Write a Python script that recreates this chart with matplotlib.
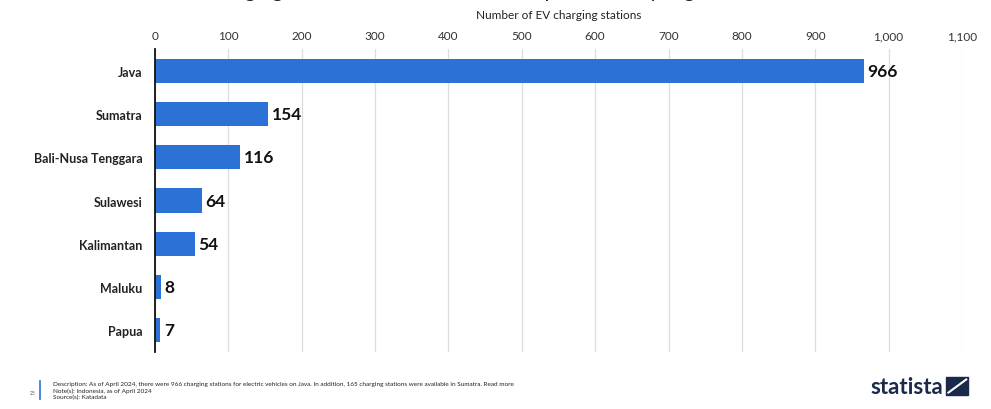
import matplotlib.pyplot as plt
from matplotlib.patches import Rectangle
from matplotlib.lines import Line2D

regions = ['Java', 'Sumatra', 'Bali-Nusa Tenggara', 'Sulawesi', 'Kalimantan', 'Maluku', 'Papua']
stations = [966, 154, 116, 64, 54, 8, 7]
x_ticks = [0, 100, 200, 300, 400, 500, 600, 700, 800, 900, 1000, 1100]

plt.rcParams['font.family'] = ['Lato', 'DejaVu Sans']

fig = plt.figure(figsize=(9.91, 4.10), dpi=100)
ax = fig.add_axes([0.1564, 0.140, 0.8143, 0.737])

bars = ax.barh(regions, stations, height=0.56, color='#2b71d6', zorder=3)
ax.set_ylim(6.5, -0.5)
ax.set_xlim(0, 1100)

# value labels at the end of each bar
for b, v in zip(bars, stations):
    ax.text(b.get_width() + 5, b.get_y() + b.get_height() / 2, f'{v:,}',
            va='center', ha='left', fontsize=12.5, fontweight='bold', color='#111111')

ax.xaxis.tick_top()
ax.xaxis.set_label_position('top')
ax.set_xticks(x_ticks)
ax.set_xticklabels([f'{t:,}' for t in x_ticks], fontsize=8.5, color='#333333')
ax.set_xlabel('Number of EV charging stations', fontsize=8.5, color='#222222', labelpad=9)
ax.tick_params(axis='x', length=0, pad=6)
ax.tick_params(axis='y', length=0, pad=9, labelsize=9, labelcolor='#222222')
for lab in ax.get_yticklabels():
    lab.set_fontweight('bold')

ax.grid(axis='x', color='#dcdcdc', linewidth=0.9, zorder=0)
for side in ['top', 'right', 'bottom']:
    ax.spines[side].set_visible(False)
ax.spines['left'].set_color('#111111')
ax.spines['left'].set_linewidth(1.3)
ax.spines['left'].set_zorder(4)

# title cut off by the top edge of the screenshot
fig.text(0.40, 1.022, 'Number of EV charging stations in Indonesia as of April 2024, by region',
         ha='center', va='center', fontsize=15, color='#222222')

# footer
fig.text(0.030, 0.040, '25', fontsize=3.5, color='#555555', va='center')
fig.add_artist(Line2D([0.040, 0.040], [0.025, 0.068], color='#2b71d6', linewidth=1.2))
fig.text(0.053, 0.061, 'Description: As of April 2024, there were 966 charging stations for electric vehicles on Java. '
         'In addition, 165 charging stations were available in Sumatra. Read more',
         fontsize=4.6, color='#222222', va='center')
fig.text(0.053, 0.045, 'Note(s): Indonesia, as of April 2024', fontsize=4.6, color='#222222', va='center')
fig.text(0.053, 0.030, 'Source(s): Katadata', fontsize=4.6, color='#222222', va='center')

fig.text(0.952, 0.056, 'statista', ha='right', va='center', fontsize=16,
         fontweight='bold', color='#1a2a4a')
fig.add_artist(Rectangle((0.955, 0.035), 0.022, 0.042, color='#1a2a4a', transform=fig.transFigure))
fig.add_artist(Line2D([0.957, 0.975], [0.040, 0.072], color='white', linewidth=1.5))

fig.savefig('out.png', dpi=100)
